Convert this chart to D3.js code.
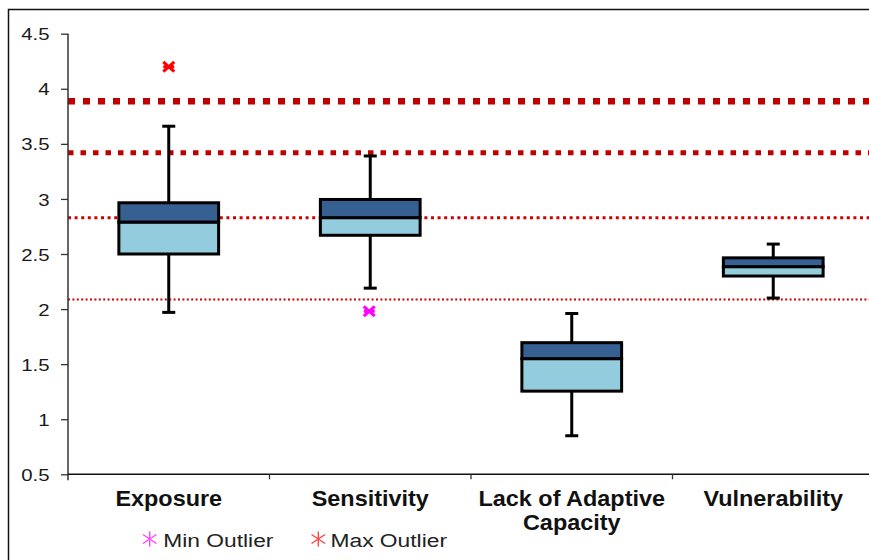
<!DOCTYPE html>
<html>
<head>
<meta charset="utf-8">
<script src="https://cdn.jsdelivr.net/npm/d3@7"></script>
<style>
  html, body { margin: 0; padding: 0; background: #fff; }
  svg { display: block; }
  text { font-family: "Liberation Sans", Arial, sans-serif; }
</style>
</head>
<body>
<svg id="chart" width="869" height="560"></svg>
<script>
// ---- data ----
const categories = ["Exposure", "Sensitivity", "Lack of Adaptive Capacity", "Vulnerability"];
const categoryLines = [["Exposure"], ["Sensitivity"], ["Lack of Adaptive", "Capacity"], ["Vulnerability"]];
const whiskerLow  = [1.97, 2.19, 0.85, 2.10];
const quartile1   = [2.50, 2.67, 1.255, 2.30];
const medians     = [2.79, 2.83, 1.55, 2.385];
const quartile3   = [2.965, 2.995, 1.695, 2.465];
const whiskerHigh = [3.66, 3.39, 1.96, 2.59];
const minOutliers = [null, 1.98, null, null];
const maxOutliers = [4.2, null, null, null];
const referenceLines = [3.887, 3.419, 2.829, 2.087];
const yTicks = [0.5, 1, 1.5, 2, 2.5, 3, 3.5, 4, 4.5];
const legendLabels = ["Min Outlier", "Max Outlier"];

// ---- layout ----
const svg = d3.select("#chart");
const x0 = 68, x1 = 874, yTop = 33.7, yBot = 474.3;

const x = d3.scaleBand().domain(categories).range([x0, x1]).padding(0);
const y = d3.scaleLinear().domain([0.5, 4.5]).range([yBot, yTop]);

// outer frame
svg.append("rect").attr("x", 8.5).attr("y", 9.5).attr("width", 900).attr("height", 600)
  .attr("fill", "none").attr("stroke", "#111").attr("stroke-width", 1.5);

// reference dotted lines
const refStyles = [
  {w: 6.5, dash: "7 8"},
  {w: 5, dash: "5.5 7"},
  {w: 3, dash: "3 3.6"},
  {w: 2, dash: "2 2.4"}
];
svg.append("g").selectAll("line").data(referenceLines).join("line")
  .attr("x1", x0).attr("x2", 869)
  .attr("y1", d => y(d)).attr("y2", d => y(d))
  .attr("stroke", (d, i) => i < 2 ? "#c00000" : "#d00000")
  .attr("stroke-width", (d, i) => refStyles[i].w)
  .attr("stroke-dasharray", (d, i) => refStyles[i].dash);

// y axis
const sx = 1.2;
const yAxis = svg.append("g").attr("transform", `translate(${x0},0)`)
  .call(d3.axisLeft(y).tickValues(yTicks).tickSize(7).tickFormat(d => String(d)));
yAxis.select(".domain").remove();
yAxis.selectAll(".tick line").attr("stroke", "#333").attr("stroke-width", 1.3);
yAxis.selectAll(".tick text")
  .attr("font-size", 17).attr("fill", "#1a1a1a")
  .attr("font-family", "'Liberation Sans', Arial, sans-serif")
  .attr("x", -18.5 / sx).attr("dy", "0.36em")
  .attr("transform", `scale(${sx},1)`);
svg.append("line").attr("x1", x0).attr("x2", x0).attr("y1", yTop).attr("y2", yBot + 6)
  .attr("stroke", "#333").attr("stroke-width", 1.5);

// x axis
svg.append("line").attr("x1", x0).attr("x2", 869).attr("y1", yBot).attr("y2", yBot)
  .attr("stroke", "#111").attr("stroke-width", 1.5);
svg.append("g").selectAll("line").data(categories.slice(1)).join("line")
  .attr("x1", d => x(d)).attr("x2", d => x(d))
  .attr("y1", yBot).attr("y2", yBot + 5)
  .attr("stroke", "#333").attr("stroke-width", 1.3);

// category labels
const csx = 1.09;
const catG = svg.append("g").selectAll("g").data(categories).join("g")
  .attr("transform", d => `translate(${x(d) + x.bandwidth() / 2},506) scale(${csx},1)`);
catG.each(function (d, i) {
  const t = d3.select(this).append("text").attr("text-anchor", "middle")
    .attr("font-size", 21.5).attr("font-weight", "bold").attr("fill", "#111");
  categoryLines[i].forEach((ln, j) => {
    t.append("tspan").attr("x", 0).attr("y", j * 24.5).text(ln);
  });
});

// boxes
const boxW = x.bandwidth() * 0.495;
const capW = 11;
const g = svg.append("g");
categories.forEach((c, i) => {
  const cx = x(c) + x.bandwidth() / 2;
  g.append("line").attr("x1", cx).attr("x2", cx).attr("y1", y(whiskerHigh[i])).attr("y2", y(quartile3[i]))
    .attr("stroke", "#000").attr("stroke-width", 3);
  g.append("line").attr("x1", cx).attr("x2", cx).attr("y1", y(quartile1[i])).attr("y2", y(whiskerLow[i]))
    .attr("stroke", "#000").attr("stroke-width", 3);
  g.append("line").attr("x1", cx - capW / 2 - 1).attr("x2", cx + capW / 2 + 1).attr("y1", y(whiskerHigh[i])).attr("y2", y(whiskerHigh[i]))
    .attr("stroke", "#000").attr("stroke-width", 3);
  g.append("line").attr("x1", cx - capW / 2 - 1).attr("x2", cx + capW / 2 + 1).attr("y1", y(whiskerLow[i])).attr("y2", y(whiskerLow[i]))
    .attr("stroke", "#000").attr("stroke-width", 3);
  g.append("rect").attr("x", cx - boxW / 2).attr("width", boxW)
    .attr("y", y(medians[i])).attr("height", y(quartile1[i]) - y(medians[i]))
    .attr("fill", "#93cddd").attr("stroke", "#000").attr("stroke-width", 3);
  g.append("rect").attr("x", cx - boxW / 2).attr("width", boxW)
    .attr("y", y(quartile3[i])).attr("height", y(medians[i]) - y(quartile3[i]))
    .attr("fill", "#376092").attr("stroke", "#000").attr("stroke-width", 3);
});

// outlier markers
function starH(sel, cx, cy, r, color, w) {
  const p = `M${cx - r},${cy - r * 0.9}L${cx + r},${cy + r * 0.9}M${cx - r},${cy + r * 0.9}L${cx + r},${cy - r * 0.9}M${cx - r},${cy}L${cx + r},${cy}`;
  sel.append("path").attr("d", p).attr("stroke", color).attr("stroke-width", w).attr("fill", "none");
}
function starV(sel, cx, cy, r, color, w) {
  const p = `M${cx - r * 0.9},${cy - r * 0.6}L${cx + r * 0.9},${cy + r * 0.6}M${cx - r * 0.9},${cy + r * 0.6}L${cx + r * 0.9},${cy - r * 0.6}M${cx},${cy - r}L${cx},${cy + r}`;
  sel.append("path").attr("d", p).attr("stroke", color).attr("stroke-width", w).attr("fill", "none");
}
const og = svg.append("g");
categories.forEach((c, i) => {
  const cx = x(c) + x.bandwidth() / 2;
  if (minOutliers[i] != null) starH(og, cx - 1, y(minOutliers[i]), 5.5, "#ff00ff", 3);
  if (maxOutliers[i] != null) starH(og, cx, y(maxOutliers[i]), 5.5, "#ff0000", 3);
});

// legend
const lsx = 1.2;
const legendItems = [
  {label: legendLabels[0], color: "#ff44ff", mx: 149.7, tx: 163.3},
  {label: legendLabels[1], color: "#ff4444", mx: 318.3, tx: 330.5}
];
const lg = svg.append("g");
legendItems.forEach(it => {
  starV(lg, it.mx, 539, 7.5, it.color, 1.4);
  lg.append("text").attr("transform", `translate(${it.tx},546.5) scale(${lsx},1)`)
    .attr("font-size", 19).attr("fill", "#222").text(it.label);
});
</script>
</body>
</html>
